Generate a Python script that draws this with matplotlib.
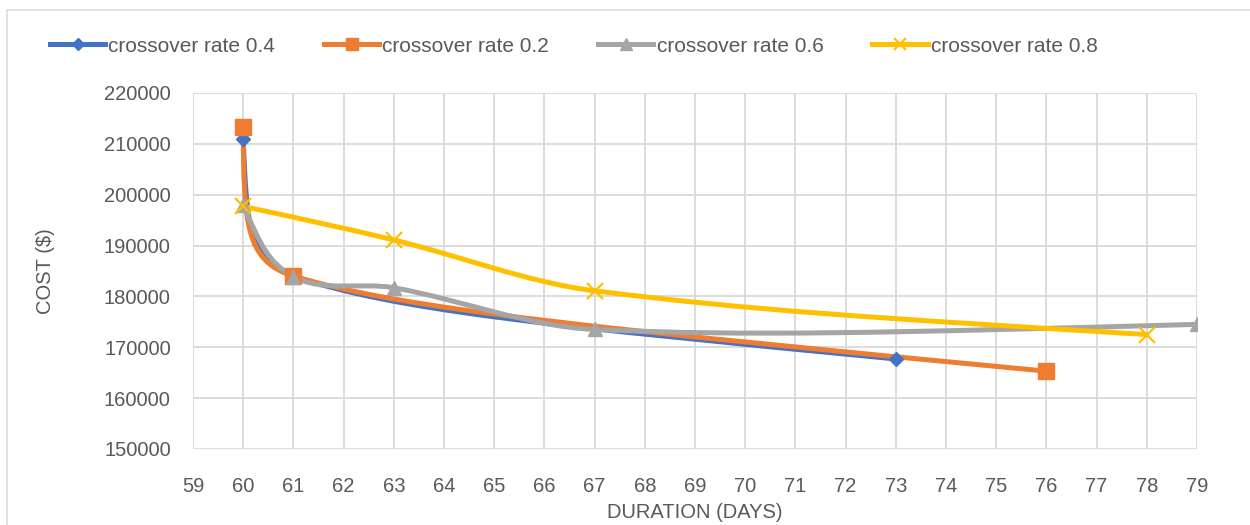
import numpy as np
import matplotlib
matplotlib.use("Agg")
import matplotlib.pyplot as plt
from matplotlib.path import Path
from matplotlib.patches import PathPatch, Rectangle
from matplotlib.lines import Line2D

plt.rcParams['font.family'] = ['Liberation Sans', 'DejaVu Sans']

# data
dur_04 = [60, 61, 73]
cost_04 = [211000, 184000, 167700]
dur_02 = [60, 61, 76]
cost_02 = [213300, 184000, 165300]
dur_06 = [60, 61, 63, 67, 79]
cost_06 = [198000, 183900, 181700, 173500, 174500]
dur_08 = [60, 63, 67, 78]
cost_08 = [197700, 191100, 181100, 172500]

labels = ['crossover rate 0.4', 'crossover rate 0.2', 'crossover rate 0.6', 'crossover rate 0.8']
colors = ['#4472C4', '#ED7D31', '#A5A5A5', '#FFC000']
markers = ['D', 's', '^', 'x']
msizes = [7, 11, 10, 11]

series = [(dur_04, cost_04), (dur_02, cost_02), (dur_06, cost_06), (dur_08, cost_08)]


def smooth_path(xs, ys, k=0.33, ke=0.7, sy=10000.0):
    # excel-like smoothed line: cubic bezier segments through the points,
    # end tangents aim at the neighbouring control point
    p = np.column_stack([np.asarray(xs, float), np.asarray(ys, float) / sy])
    n = len(p)
    segs = [np.hypot(*(p[i + 1] - p[i])) for i in range(n - 1)]
    ctrl = []
    for i in range(n - 1):
        a, b = p[i], p[i + 1]
        seg = segs[i]
        c1 = c2 = None
        if i > 0:
            d0 = b - p[i - 1]
            L = min(k * seg, 0.75 * segs[i - 1])
            c1 = a + d0 / np.hypot(*d0) * L
        if i + 2 < n:
            d1 = p[i + 2] - a
            L = min(k * seg, 0.75 * segs[i + 1])
            c2 = b - d1 / np.hypot(*d1) * L
        if c1 is None and c2 is None:
            c1 = a + (b - a) / 3
            c2 = b - (b - a) / 3
        elif c1 is None:
            c1 = a + (c2 - a) * ke
        elif c2 is None:
            c2 = b + (c1 - b) * ke
        ctrl.append((c1, c2, b))
    verts = [p[0]]
    codes = [Path.MOVETO]
    for c1, c2, b in ctrl:
        verts += [c1, c2, b]
        codes += [Path.CURVE4] * 3
    verts = np.array(verts)
    verts[:, 1] *= sy
    return Path(verts, codes)


fig = plt.figure(figsize=(12.5, 5.25), dpi=100)
ax = fig.add_axes([0.1544, 0.1448, 0.8032, 0.6781])

handles = []
for (xs, ys), c, m, ms, lab in zip(series, colors, markers, msizes, labels):
    patch = PathPatch(smooth_path(xs, ys), fill=False, edgecolor=c, lw=3.6,
                      capstyle='round', joinstyle='round')
    ax.add_patch(patch)
    if m == 'x':
        ax.plot(xs, ys, linestyle='none', marker=m, ms=ms, mew=1.6, color=c)
    else:
        ax.plot(xs, ys, linestyle='none', marker=m, ms=ms, color=c, mec=c)
    handles.append(Line2D([], [], color=c, lw=3.6, marker=m,
                          ms=ms * 0.85, mew=1.6 if m == 'x' else 1, label=lab))

ax.set_xlim(59, 79)
ax.set_ylim(150000, 220000)
ax.set_xticks(range(59, 80))
ax.set_yticks(range(150000, 220001, 10000))
ax.grid(True, color='#D9D9D9', lw=1.3)
ax.set_axisbelow(True)
for s in ax.spines.values():
    s.set_visible(False)
ax.tick_params(length=0, labelsize=14.5, colors='#595959')
ax.tick_params(axis='y', pad=16)
ax.tick_params(axis='x', pad=20)

ax.set_xlabel('DURATION (DAYS)', fontsize=14.5, color='#595959', labelpad=5)
ax.set_ylabel('COST ($)', fontsize=14.5, color='#595959', labelpad=35)

fig.legend(handles=handles, loc='center left', bbox_to_anchor=(0.040, 0.912),
           ncol=4, frameon=False, fontsize=15, handlelength=2.65,
           handletextpad=0.15, columnspacing=2.35, borderpad=0,
           borderaxespad=0, labelcolor='#595959')

fig.add_artist(Rectangle((0.0056, -0.05), 1.2, 1.031, transform=fig.transFigure,
                         fill=False, edgecolor='#D9D9D9', lw=1.1))

plt.savefig('out.png', dpi=100)
